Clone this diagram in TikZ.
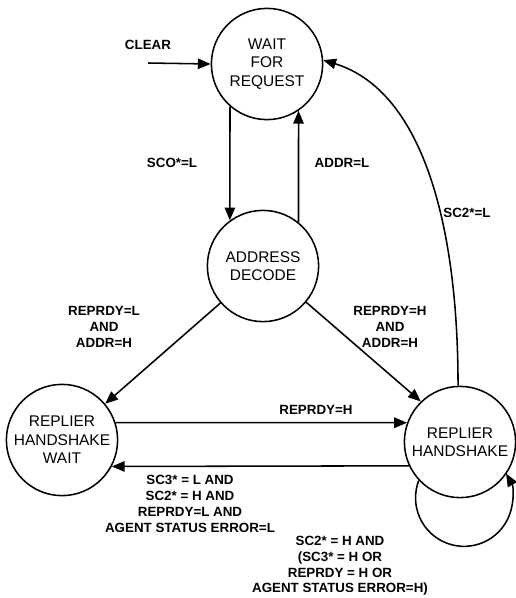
\documentclass[tikz,border=0pt]{standalone}
\usepackage{fontspec}
\setsansfont{Liberation Sans}
\usetikzlibrary{arrows.meta}
\tikzset{
  state/.style={draw, circle, minimum size=2.78cm, inner sep=0pt, align=center,
    font=\sffamily\fontsize{11}{13.1}\selectfont},
  cond/.style={align=center, font=\sffamily\bfseries\fontsize{9.5}{11.2}\selectfont}
}
\begin{document}
\begin{tikzpicture}[line join=round, line width=1.1pt, >={Triangle[length=3.2mm,width=2.6mm]}, x=0.025cm, y=-0.025cm]
	\useasboundingbox (0,0) rectangle (515,598);
	\node[state] (wait) at (267,64) {WAIT\\FOR\\REQUEST};
	\node[state] (ad) at (263,266) {ADDRESS\\DECODE};
	\node[state] (rhw) at (62,440) {REPLIER\\HANDSHAKE\\WAIT};
	\node[state] (rh) at (460,442) {REPLIER\\HANDSHAKE};
	\node[cond] (clear) at (148,45) {CLEAR};
	\coordinate (clr) at (148,63);
	\draw[->] (clr) -- (wait.west);
	\draw[->] (wait.-131) -- (ad.126);
	\draw[->] (ad.51) -- (wait.-56);
	\draw[->] (ad.221) -- (rhw.40);
	\draw[->] (ad.320) -- (rh.134);
	\draw[->] (rhw.18) -- (rh.160);
	\draw[->] (rh.205.6) -- (rhw.332);
	\draw[->] (rh.92) .. controls +(0,-167) and +(97,30) .. (wait.4);
	\draw[->] (rh.223) arc[start angle=159, end angle=390, radius=1.2125cm];
	\node[cond] (sco) at (172,163) {SCO*=L};
	\node[cond] (addrl) at (342,163) {ADDR=L};
	\node[cond] (sctwo) at (467,213) {SC2*=L};
	\node[cond] (toWait) at (104,327) {REPRDY=L\\AND\\ADDR=H};
	\node[cond] (toHs) at (390,327) {REPRDY=H\\AND\\ADDR=H};
	\node[cond] (ready) at (316,410) {REPRDY=H};
	\node[cond] (back) at (190,504) {SC3* = L AND\\SC2* = H AND\\REPRDY=L AND\\AGENT STATUS ERROR=L};
	\node[cond] (stay) at (340,566) {SC2* = H AND\\(SC3* = H OR\\REPRDY = H OR\\AGENT STATUS ERROR=H)};
\end{tikzpicture}
\end{document}
